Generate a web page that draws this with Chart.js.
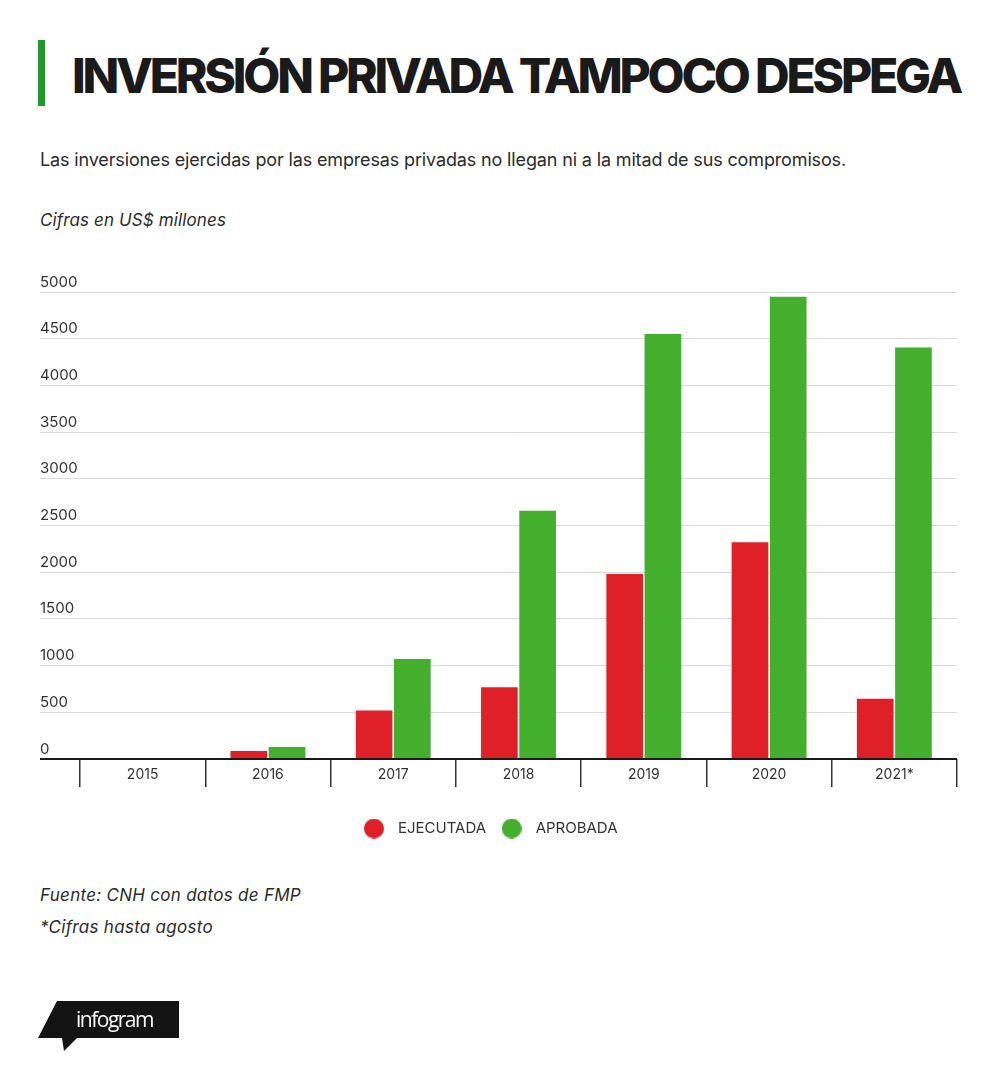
<!DOCTYPE html>
<html>
<head>
<meta charset="utf-8">
<script src="https://cdn.jsdelivr.net/npm/chart.js@4.4.1/dist/chart.umd.min.js"></script>
<style>
  html, body { margin: 0; padding: 0; background: #fff; }
  body { width: 1000px; height: 1071px; position: relative; overflow: hidden; font-family: Inter, "Noto Sans", sans-serif; }
  .abs { position: absolute; white-space: nowrap; line-height: 1; }
  #bar { position: absolute; left: 38px; top: 40px; width: 7px; height: 66px; background: #1f9a2a; }
  #title { left: 72px; top: 52px; font-size: 48px; font-weight: 800; color: #1a1a1a; }
  #subtitle { left: 40px; top: 151px; font-size: 18px; color: #2b2b2b; }
  #units { left: 40px; top: 212px; font-size: 17px; font-style: italic; color: #2b2b2b; }
  #source { left: 40px; top: 887px; font-size: 17px; font-style: italic; color: #2b2b2b; }
  #note { left: 40px; top: 919px; font-size: 17px; font-style: italic; color: #2b2b2b; }
  #chartBox { position: absolute; left: 0; top: 250px; width: 1000px; height: 596px; }
  #logo { position: absolute; left: 0; top: 0; }
  #logoText { left: 76px; top: 1009px; font-size: 21px; font-weight: 500; color: #fff; font-family: "Open Sans", sans-serif; }
</style>
</head>
<body>
<div id="bar"></div>
<div id="title" class="abs">INVERSIÓN PRIVADA TAMPOCO DESPEGA</div>
<div id="subtitle" class="abs">Las inversiones ejercidas por las empresas privadas no llegan ni a la mitad de sus compromisos.</div>
<div id="units" class="abs">Cifras en US$ millones</div>
<div id="chartBox"><canvas id="c"></canvas></div>
<div id="source" class="abs">Fuente: CNH con datos de FMP</div>
<div id="note" class="abs">*Cifras hasta agosto</div>
<svg id="logo" width="200" height="1071" viewBox="0 0 200 1071">
  <polygon points="57,1001 179,1001 179,1038 77,1038 64,1051 62,1038 38,1038" fill="#141414"/>
</svg>
<div id="logoText" class="abs">infogram</div>
<script>
// ---- data ----
const categories = ['2015', '2016', '2017', '2018', '2019', '2020', '2021*'];
const ejecutada = [0, 85, 518, 768, 1980, 2320, 645];
const aprobada = [10, 128, 1070, 2658, 4550, 4950, 4405];
const yTicks = [0, 500, 1000, 1500, 2000, 2500, 3000, 3500, 4000, 4500, 5000];
const seriesNames = ['EJECUTADA', 'APROBADA'];

// fit text widths by letter spacing
function fit(id, target) {
  const el = document.getElementById(id);
  el.style.letterSpacing = '0px';
  const w = el.getBoundingClientRect().width;
  const n = el.textContent.length;
  el.style.letterSpacing = ((target - w) / n) + 'px';
}
fit('title', 888);
fit('subtitle', 806);
fit('units', 186);
fit('source', 261);
fit('note', 173);
fit('logoText', 77);

const RED = '#e02028';
const GREEN = '#44ae2d';

function dot(color) {
  const cv = document.createElement('canvas');
  cv.width = 20; cv.height = 20;
  const g = cv.getContext('2d');
  g.fillStyle = color;
  g.beginPath(); g.arc(10, 10, 10, 0, Math.PI * 2); g.fill();
  return cv;
}
const dots = [dot(RED), dot(GREEN)];

// nudge the legend slightly left, like the original layout
const legendShift = {
  id: 'legendShift',
  afterLayout(chart) {
    if (chart.legend) { chart.legend.left -= 11; chart.legend.right -= 11; }
  }
};

new Chart(document.getElementById('c'), {
  type: 'bar',
  data: {
    labels: categories,
    datasets: [
      { label: seriesNames[0], data: ejecutada, backgroundColor: RED },
      { label: seriesNames[1], data: aprobada, backgroundColor: GREEN }
    ]
  },
  plugins: [legendShift],
  options: {
    responsive: true,
    maintainAspectRatio: false,
    animation: false,
    categoryPercentage: 0.61,
    barPercentage: 0.96,
    layout: { padding: { left: 40, right: 43, top: 42, bottom: 0 } },
    plugins: {
      tooltip: { enabled: false },
      legend: {
        position: 'bottom',
        labels: {
          usePointStyle: true,
          pointStyleWidth: 33,
          boxHeight: 14,
          padding: 9,
          color: '#333',
          font: { family: 'Inter', size: 15 },
          generateLabels(chart) {
            const items = Chart.defaults.plugins.legend.labels.generateLabels(chart);
            items.forEach((it, i) => { it.pointStyle = dots[i]; });
            return items;
          }
        }
      }
    },
    scales: {
      x: {
        offset: true,
        border: { display: false },
        grid: {
          offset: true,
          drawOnChartArea: false,
          drawTicks: true,
          tickLength: 28,
          color: '#333',
          lineWidth: 1.5
        },
        ticks: {
          padding: -21,
          color: '#333',
          font: { family: 'Inter', size: 14 }
        },
        afterFit(scale) { scale.height = 53; }
      },
      y: {
        min: 0,
        max: 5000,
        border: { display: false },
        afterBuildTicks(scale) { scale.ticks = yTicks.map(v => ({ value: v })); },
        afterFit(scale) { scale.width = 40; },
        grid: {
          drawTicks: true,
          tickLength: 40,
          color: ctx => (ctx.tick && ctx.tick.value === 0) ? '#1a1a1a' : '#d9d9d9',
          lineWidth: ctx => (ctx.tick && ctx.tick.value === 0) ? 2 : 1
        },
        ticks: {
          crossAlign: 'far',
          labelOffset: -10,
          padding: 0,
          color: '#333',
          font: { family: 'Inter', size: 15 },
          callback: v => String(v)
        }
      }
    }
  }
});
</script>
</body>
</html>
